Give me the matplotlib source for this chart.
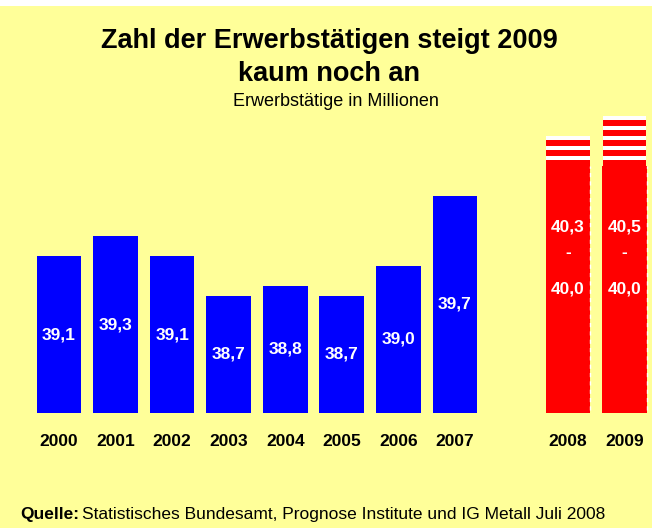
import matplotlib
matplotlib.use("Agg")
import matplotlib.pyplot as plt
from matplotlib.patches import Rectangle

plt.rcParams['font.family'] = ['Liberation Sans', 'DejaVu Sans']

# --- data ---
years_actual = ["2000", "2001", "2002", "2003", "2004", "2005", "2006", "2007"]
values_actual = [39.1, 39.3, 39.1, 38.7, 38.8, 38.7, 39.0, 39.7]
years_forecast = ["2008", "2009"]
forecast_low = [40.0, 40.0]
forecast_high = [40.3, 40.5]

title_line1 = "Zahl der Erwerbstätigen steigt 2009"
title_line2 = "kaum noch an"
subtitle = "Erwerbstätige in Millionen"
source_bold = "Quelle:"
source_rest = "Statistisches Bundesamt, Prognose Institute und IG Metall Juli 2008"

def fmt(v):
    return f"{v:.1f}".replace(".", ",")

W, H = 664, 528
fig = plt.figure(figsize=(W / 100, H / 100), dpi=100)
fig.patch.set_facecolor("white")
YELLOW = "#FFFF99"
fig.patches.append(Rectangle((0, 0), 652 / W, (H - 6) / H, transform=fig.transFigure,
                             facecolor=YELLOW, edgecolor="none", zorder=-10))

base = 37.53
ax_left = 30.75 / W
ax_width = (652.75 - 30.75) / W
ax_bottom = (H - 413) / H
ax_height = 303 / H
ax = fig.add_axes([ax_left, ax_bottom, ax_width, ax_height])
ax.set_facecolor("none")
ax.set_xlim(-0.5, 10.5)
ax.set_ylim(base, base + 3.03)
for s in ax.spines.values():
    s.set_visible(False)
ax.set_yticks([])

x_act = list(range(len(years_actual)))
x_fc = [len(years_actual) + 1 + i for i in range(len(years_forecast))]
bw = 0.79

heights = [v - base for v in values_actual]
ax.bar(x_act, heights, bottom=base, width=bw, color="#0000FF", edgecolor="none")
for x, v in zip(x_act, values_actual):
    ax.text(x, base + (v - base) / 2, fmt(v), color="white", fontsize=12.5,
            fontweight="bold", ha="center", va="center")

RED = "#FF0000"
for x, lo, hi in zip(x_fc, forecast_low, forecast_high):
    ax.bar(x, lo - base, bottom=base, width=bw, color=RED, edgecolor="none")
    # dashed white right edge
    ax.plot([x + bw / 2, x + bw / 2], [base + 0.03, lo], color="white", lw=1,
            ls=(0, (3, 3)))
    # striped upper range
    ax.bar(x, hi - lo, bottom=lo, width=bw - 0.02, color="white", edgecolor="none")
    n = int(round((hi - lo) / 0.1))
    for k in range(n):
        ax.bar(x, 0.06, bottom=lo + k * 0.1 - 0.002, width=bw - 0.02, color=RED,
               edgecolor="none")
    mid = base + (lo - base) / 2
    ax.text(x, mid, fmt(lo), color="white", fontsize=12.5, fontweight="bold",
            ha="center", va="center")
    ax.annotate("-", xy=(x, mid), xytext=(0, 26.5), textcoords="offset points",
                color="white", fontsize=12.5, fontweight="bold", ha="center", va="center")
    ax.annotate(fmt(hi), xy=(x, mid), xytext=(0, 45), textcoords="offset points",
                color="white", fontsize=12.5, fontweight="bold", ha="center", va="center")

ax.set_xticks(x_act + x_fc)
ax.set_xticklabels(years_actual + years_forecast, fontsize=12.5, fontweight="bold")
ax.tick_params(axis="x", length=0, pad=15)

fig.text(329 / W, 1 - 41 / H, title_line1, fontsize=19.5,
         fontweight="bold", ha="center", va="center")
fig.text(329 / W, 1 - 74 / H, title_line2, fontsize=19.5,
         fontweight="bold", ha="center", va="center")
fig.text(336 / W, 1 - 101.5 / H, subtitle, fontsize=13, ha="center", va="center")

t1 = fig.text(20.5 / W, 1 - 515 / H, source_bold, fontsize=12.5, fontweight="bold",
              ha="left", va="center")
ax.annotate(source_rest, xy=(1, 0), xycoords=t1, xytext=(2, 0),
            textcoords="offset points", fontsize=12.5, ha="left", va="bottom",
            annotation_clip=False)

fig.savefig("out.png", dpi=100, facecolor=fig.get_facecolor())
